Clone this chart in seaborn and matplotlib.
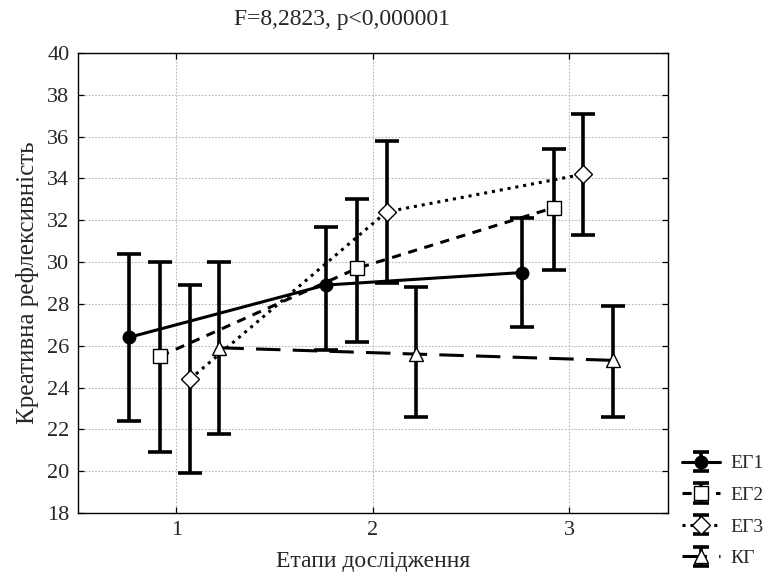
import matplotlib
matplotlib.use("Agg")
import matplotlib.pyplot as plt
import seaborn as sns
import pandas as pd
import numpy as np

stages = [1, 2, 3]
groups = ["ЕГ1", "ЕГ2", "ЕГ3", "КГ"]
eg1_mean = [26.4, 28.9, 29.5]
eg1_low = [22.4, 25.8, 26.9]
eg1_high = [30.4, 31.7, 32.1]
eg2_mean = [25.5, 29.7, 32.6]
eg2_low = [20.9, 26.2, 29.6]
eg2_high = [30.0, 33.0, 35.4]
eg3_mean = [24.4, 32.4, 34.2]
eg3_low = [19.9, 29.0, 31.3]
eg3_high = [28.9, 35.8, 37.1]
kg_mean = [25.9, 25.6, 25.3]
kg_low = [21.8, 22.6, 22.6]
kg_high = [30.0, 28.8, 27.9]

title = "F=8,2823, p<0,000001"
xlabel = "Етапи дослідження"
ylabel = "Креативна рефлексивність"

means = [eg1_mean, eg2_mean, eg3_mean, kg_mean]
lows = [eg1_low, eg2_low, eg3_low, kg_low]
highs = [eg1_high, eg2_high, eg3_high, kg_high]

offsets = [-0.24, -0.08, 0.07, 0.22]
styles = [
    dict(marker="o", mfc="black", ls="-", ms=9),
    dict(marker="s", mfc="white", ls=(0, (3, 2.5)), ms=10),
    dict(marker="D", mfc="white", ls=(0, (1, 1.6)), ms=9),
    dict(marker="^", mfc="white", ls=(0, (8, 4)), ms=10),
]

sns.set_theme(style="white")
plt.rcParams["font.family"] = ["Liberation Serif", "DejaVu Serif"]

fig = plt.figure(figsize=(7.71, 5.86), dpi=100)
ax = fig.add_axes([0.101, 0.1246, 0.765, 0.785])

rows = []
for g, m, o in zip(groups, means, offsets):
    for s, v in zip(stages, m):
        rows.append(dict(group=g, x=s + o, y=v))
df = pd.DataFrame(rows)

for g, m, lo, hi, o, st in zip(groups, means, lows, highs, offsets, styles):
    sub = df[df.group == g]
    sns.lineplot(data=sub, x="x", y="y", ax=ax, color="black", lw=2.2,
                 linestyle=st["ls"], sort=False, legend=False, zorder=2)
    xs = np.array(stages) + o
    m = np.array(m)
    yerr = np.vstack([m - np.array(lo), np.array(hi) - m])
    ax.errorbar(xs, m, yerr=yerr, fmt="none", ecolor="black",
                elinewidth=2.6, capsize=8.5, capthick=2.6, zorder=3)
    ax.plot(xs, m, linestyle="none", marker=st["marker"], markersize=st["ms"],
            markerfacecolor=st["mfc"], markeredgecolor="black",
            markeredgewidth=1.0, zorder=4)

ax.set_xlim(0.5, 3.5)
ax.set_ylim(18, 40)
ax.set_xticks(stages)
ax.set_yticks(np.arange(18, 41, 2))
ax.tick_params(axis="both", labelsize=16, length=4, width=0.9, direction="in",
               color="black", left=True, bottom=True, right=True, top=True,
               pad=6)
ax.grid(True, color="#b8b8b8", linestyle=(0, (1.5, 1.5)), linewidth=0.8)
for sp in ax.spines.values():
    sp.set_color("black")
    sp.set_linewidth(1.0)

fig.text(342 / 771, 1 - 20 / 586, title, fontsize=17, ha="center", va="center")
ax.set_xlabel(xlabel, fontsize=17, labelpad=8)
ax.set_ylabel(ylabel, fontsize=18, labelpad=6)

# legend proxies (errorbar glyphs), drawn off-data
leg_handles = []
for st in styles:
    h = ax.errorbar([np.nan], [np.nan], yerr=[[1.0], [1.0]],
                    color="black", lw=2.2, linestyle=st["ls"],
                    marker=st["marker"], markersize=st["ms"],
                    markerfacecolor=st["mfc"], markeredgecolor="black",
                    elinewidth=2.6, capsize=6, capthick=2.6)
    leg_handles.append(h)
leg = fig.legend(leg_handles, groups, loc="upper left",
                 bbox_to_anchor=(0.884, 0.224), frameon=False, fontsize=14,
                 handlelength=2.0, handletextpad=0.5, labelspacing=0.72,
                 borderpad=0.0, borderaxespad=0.0)

fig.savefig("out.png", dpi=100)
